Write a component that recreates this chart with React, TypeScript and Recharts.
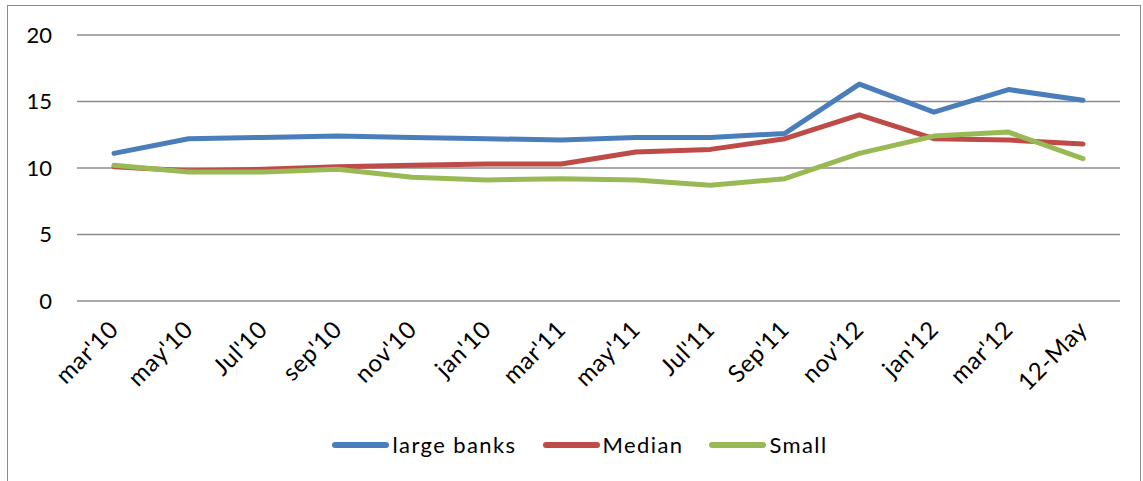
import React from "react";
import { LineChart, Line, CartesianGrid, XAxis, YAxis, Legend } from "recharts";

const months = ["mar'10", "may'10", "Jul'10", "sep'10", "nov'10", "jan'10", "mar'11", "may'11", "Jul'11", "Sep'11", "nov'12", "jan'12", "mar'12", "12-May"];
const largeBanks = [11.1, 12.2, 12.3, 12.4, 12.3, 12.2, 12.1, 12.3, 12.3, 12.6, 16.3, 14.2, 15.9, 15.1];
const median = [10.1, 9.8, 9.9, 10.1, 10.2, 10.3, 10.3, 11.2, 11.4, 12.2, 14.0, 12.2, 12.1, 11.8];
const small = [10.2, 9.7, 9.7, 9.9, 9.3, 9.1, 9.2, 9.1, 8.7, 9.2, 11.1, 12.4, 12.7, 10.7];
const yTicks = [0, 5, 10, 15, 20];

const series = [
  { key: "large", name: "large banks", color: "#4A7EBB" },
  { key: "median", name: "Median", color: "#BE4B48" },
  { key: "small", name: "Small", color: "#98B954" },
];

const data = months.map((m, i) => ({ m, large: largeBanks[i], median: median[i], small: small[i] }));

const FONT = "Lato, 'Open Sans', sans-serif";

function MonthTick(props: any) {
  const { x, y, payload } = props;
  return (
    <g transform={`translate(${x + 6},${y + 22})`}>
      <text transform="rotate(-45)" textAnchor="end" fill="#000" fontSize={24} letterSpacing={0.6} fontFamily={FONT}>
        {payload.value}
      </text>
    </g>
  );
}

function LegendRow() {
  return (
    <div style={{ display: "flex", justifyContent: "center", alignItems: "center", fontFamily: FONT, fontSize: 22, letterSpacing: 1.4, color: "#000", paddingTop: 14, paddingLeft: 40 }}>
      {series.map((s) => (
        <div key={s.key} style={{ display: "flex", alignItems: "center", margin: "0 13px" }}>
          <span style={{ display: "inline-block", width: 57, height: 6, borderRadius: 3, background: s.color, marginRight: 3 }} />
          <span>{s.name}</span>
        </div>
      ))}
    </div>
  );
}

export default function App() {
  return (
    <div style={{ position: "absolute", left: 0, top: 0, width: 1143, height: 481, background: "#fff", overflow: "hidden" }}>
      <div style={{ position: "absolute", left: 7, top: 5, width: 1132, height: 500, border: "1px solid #8c8c8c" }} />
      <LineChart width={1143} height={481} data={data} margin={{ top: 35, right: 23, left: 0, bottom: 14 }}>
        <CartesianGrid vertical={false} stroke="#8c8c8c" strokeWidth={1.5} />
        <XAxis
          dataKey="m"
          axisLine={false}
          tickLine={false}
          interval={0}
          height={116}
          padding={{ left: 37, right: 37 }}
          tick={<MonthTick />}
        />
        <YAxis
          domain={[0, 20]}
          ticks={yTicks}
          width={77}
          axisLine={false}
          tickLine={false}
          tickSize={0}
          tickMargin={25}
          tick={{ fill: "#000", fontSize: 22, fontFamily: FONT }}
        />
        <Legend verticalAlign="bottom" height={50} content={() => <LegendRow />} />
        {series.map((s) => (
          <Line
            key={s.key}
            type="linear"
            dataKey={s.key}
            name={s.name}
            stroke={s.color}
            strokeWidth={5}
            strokeLinecap="round"
            strokeLinejoin="round"
            dot={false}
            activeDot={false}
            isAnimationActive={false}
          />
        ))}
      </LineChart>
    </div>
  );
}
